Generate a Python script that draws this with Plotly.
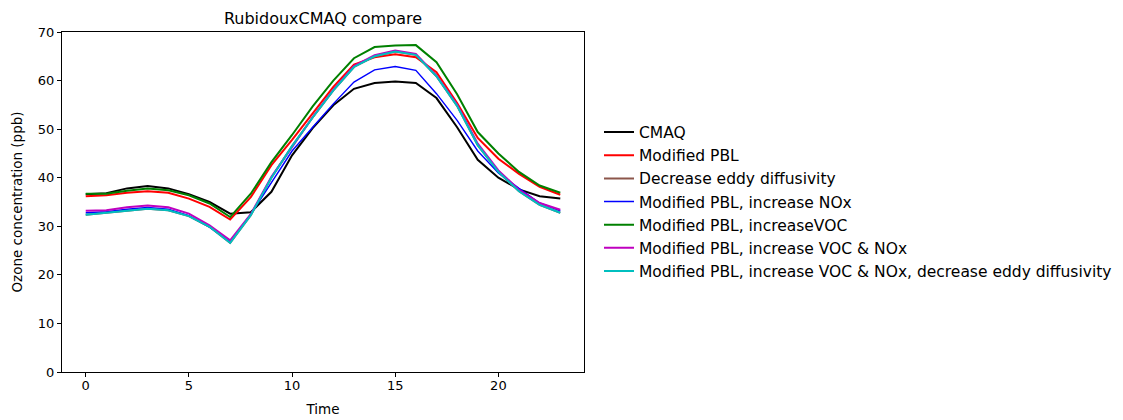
import plotly.graph_objects as go

hours = list(range(24))

cmaq = [36.6, 36.8, 37.8, 38.3, 37.8, 36.6, 35.0, 32.6, 32.9, 37.1, 44.6, 50.2, 54.9, 58.3, 59.5, 59.8, 59.5, 56.4, 50.4, 43.7, 40.0, 37.6, 36.2, 35.7]
mod_pbl = [36.2, 36.4, 36.9, 37.2, 36.9, 35.7, 34.0, 31.4, 36.0, 42.6, 47.8, 53.2, 58.7, 63.3, 64.8, 65.4, 64.8, 61.7, 55.4, 48.2, 43.9, 40.8, 38.1, 36.5]
dec_eddy = [32.4, 32.8, 33.3, 33.6, 33.3, 32.1, 29.9, 26.6, 32.3, 40.0, 46.5, 52.4, 58.0, 62.8, 65.0, 66.0, 65.3, 60.9, 54.8, 46.7, 41.2, 37.2, 34.4, 32.8]
pbl_nox = [32.8, 33.0, 33.5, 33.9, 33.5, 32.2, 29.8, 26.8, 32.5, 39.0, 45.5, 50.4, 55.2, 59.7, 62.2, 62.9, 62.1, 57.3, 51.8, 45.5, 41.0, 37.8, 34.8, 33.2]
pbl_voc = [36.7, 36.7, 37.3, 37.8, 37.4, 36.4, 34.7, 31.9, 36.7, 43.2, 48.8, 54.7, 60.0, 64.6, 66.9, 67.2, 67.3, 63.8, 57.2, 49.4, 45.0, 41.2, 38.4, 36.9]
pbl_voc_nox = [33.2, 33.3, 33.9, 34.3, 33.9, 32.6, 30.2, 27.1, 32.5, 40.2, 46.3, 52.5, 58.1, 63.0, 65.2, 66.2, 65.5, 61.0, 55.0, 47.0, 41.5, 37.5, 34.8, 33.4]
pbl_voc_nox_eddy = [32.4, 32.8, 33.3, 33.6, 33.3, 32.1, 29.9, 26.6, 32.3, 40.0, 46.5, 52.4, 58.0, 62.8, 65.0, 66.0, 65.3, 60.9, 54.8, 46.7, 41.2, 37.2, 34.4, 32.8]

series = [
    ("CMAQ", cmaq, "#000000", 2),
    ("Modified PBL", mod_pbl, "#ff0000", 2),
    ("Decrease eddy diffusivity", dec_eddy, "#8c564b", 2),
    ("Modified PBL, increase NOx", pbl_nox, "#0000ff", 1.4),
    ("Modified PBL, increaseVOC", pbl_voc, "#008000", 2),
    ("Modified PBL, increase VOC & NOx", pbl_voc_nox, "#bf00bf", 2),
    ("Modified PBL, increase VOC & NOx, decrease eddy diffusivity", pbl_voc_nox_eddy, "#00bfbf", 2),
]

title_text = "RubidouxCMAQ compare"
x_title = "Time"
y_title = "Ozone concentration (ppb)"
x_ticks = [0, 5, 10, 15, 20]
y_ticks = [0, 10, 20, 30, 40, 50, 60, 70]

fig = go.Figure()
for i, (name, vals, color, w) in enumerate(series):
    fig.add_trace(go.Scatter(x=hours, y=vals, mode="lines", name=name,
                             legendgroup=f"g{i}",
                             line=dict(color=color, width=w)))

font = "DejaVu Sans"
fig.update_layout(
    width=1123, height=420,
    margin=dict(l=62, r=539, t=31.5, b=48, autoexpand=False),
    paper_bgcolor="white", plot_bgcolor="white",
    font=dict(family=font, size=12.5, color="black"),
    title=dict(text=title_text, x=0.5, xref="paper", xanchor="center",
               y=1, yref="paper", yanchor="bottom", pad=dict(b=8),
               font=dict(family=font, size=16, color="black")),
    showlegend=True,
    legend=dict(x=(599 - 62) / 522, xanchor="left", y=0.5, yanchor="middle",
                font=dict(family=font, size=15.5, color="black"),
                tracegroupgap=0, bgcolor="rgba(0,0,0,0)", borderwidth=0),
)
fig.update_xaxes(range=[-1.15, 24.15], tickvals=x_ticks, ticks="outside", ticklen=4,
                 tickwidth=1, tickcolor="black", showline=True, linecolor="black",
                 linewidth=1, mirror=True, showgrid=False, zeroline=False,
                 ticklabelstandoff=-3, tickfont=dict(size=13),
                 title=dict(text=x_title, standoff=12, font=dict(family=font, size=13.5)))
fig.update_yaxes(range=[0, 70], tickvals=y_ticks, ticks="outside", ticklen=4,
                 tickwidth=1, tickcolor="black", showline=True, linecolor="black",
                 linewidth=1, mirror=True, showgrid=False, zeroline=False,
                 tickfont=dict(size=13),
                 title=dict(text=y_title, standoff=12, font=dict(family=font, size=13.5)))

fig.write_html("out.html")
